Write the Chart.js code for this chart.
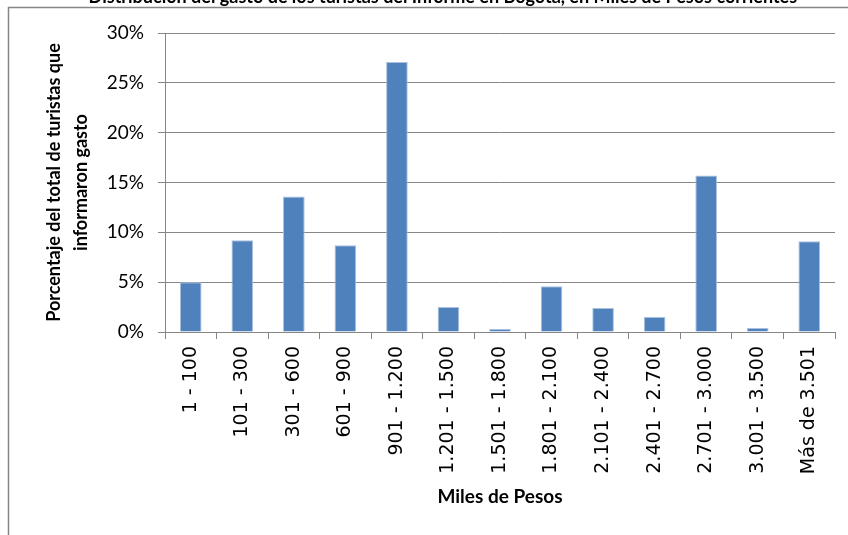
<!DOCTYPE html>
<html>
<head>
<meta charset="utf-8">
<script src="https://cdn.jsdelivr.net/npm/chart.js@4/dist/chart.umd.min.js"></script>
<style>
  html, body { margin: 0; padding: 0; background: #fff; }
  #wrap { width: 848px; height: 535px; }
</style>
</head>
<body>
<div id="wrap"><canvas id="gastoChart" width="848" height="535"></canvas></div>
<script>
// Rangos de gasto (miles de pesos)
const rangos = [
    '1 - 100', '101 - 300', '301 - 600', '601 - 900', '901 - 1.200',
    '1.201 - 1.500', '1.501 - 1.800', '1.801 - 2.100', '2.101 - 2.400',
    '2.401 - 2.700', '2.701 - 3.000', '3.001 - 3.500', 'Más de 3.501'
];
// Porcentaje de turistas por rango
const porcentajes = [5.0, 9.2, 13.6, 8.7, 27.1, 2.5, 0.3, 4.6, 2.4, 1.5, 15.7, 0.4, 9.1];
const yTicks = [0, 5, 10, 15, 20, 25, 30];

const gris = '#868686';

// marco del grafico y titulo recortado arriba
const marco = {
    id: 'marco',
    beforeDraw(chart) {
        const c = chart.ctx;
        c.save();
        c.fillStyle = '#fff';
        c.fillRect(0, 0, chart.width, chart.height);
        c.strokeStyle = gris;
        c.lineWidth = 1.5;
        c.beginPath();
        c.moveTo(8.5, chart.height + 2);
        c.lineTo(8.5, 7.5);
        c.lineTo(chart.width + 2, 7.5);
        c.stroke();
        c.fillStyle = '#000';
        c.font = 'bold 18px Lato, sans-serif';
        c.textBaseline = 'alphabetic';
        c.textAlign = 'right';
        c.fillText('Distribución del gasto de los turistas del Informe en Bogotá,', 565, 3);
        c.textAlign = 'left';
        c.fillText(' en Miles de Pesos corrientes', 565, 3);
        c.restore();
    }
};

const ctx = document.getElementById('gastoChart').getContext('2d');

new Chart(ctx, {
    type: 'bar',
    data: {
        labels: rangos,
        datasets: [{
            data: porcentajes,
            backgroundColor: '#4F81BD',
            borderColor: '#A9C0DE',
            borderWidth: 1,
            barPercentage: 0.42,
            categoryPercentage: 1
        }]
    },
    options: {
        responsive: false,
        animation: false,
        layout: { padding: { top: 33, right: 13, left: 0, bottom: 0 } },
        plugins: {
            legend: { display: false },
            tooltip: { enabled: false }
        },
        scales: {
            x: {
                afterFit: (s) => { s.height = 203; },
                grid: {
                    drawOnChartArea: false,
                    drawTicks: true,
                    tickLength: 7,
                    color: gris,
                    offset: true
                },
                border: { color: gris, width: 1 },
                ticks: {
                    color: '#000',
                    font: { family: 'DejaVu Sans', size: 19 },
                    minRotation: 90,
                    maxRotation: 90,
                    autoSkip: false,
                    padding: 7
                },
                title: {
                    display: true,
                    text: 'Miles de Pesos',
                    color: '#000',
                    font: { family: 'Lato', size: 19, weight: 'bold', lineHeight: 1.2 },
                    padding: { top: 0, bottom: 27 }
                }
            },
            y: {
                min: 0,
                max: 30,
                afterFit: (s) => { s.width = 165; },
                afterBuildTicks: (s) => { s.ticks = yTicks.map(v => ({ value: v })); },
                grid: {
                    color: gris,
                    tickLength: 7,
                    lineWidth: 1
                },
                border: { color: gris, width: 1 },
                ticks: {
                    color: '#000',
                    font: { family: 'Lato', size: 19 },
                    padding: 14,
                    callback: (v) => v + '%'
                },
                title: {
                    display: true,
                    text: ['Porcentaje del total de turistas que', 'informaron gasto'],
                    color: '#000',
                    font: { family: 'Lato', size: 18, weight: 'bold', lineHeight: 1.5 },
                    padding: { top: 41, bottom: 0 }
                }
            }
        }
    },
    plugins: [marco]
});
</script>
</body>
</html>
